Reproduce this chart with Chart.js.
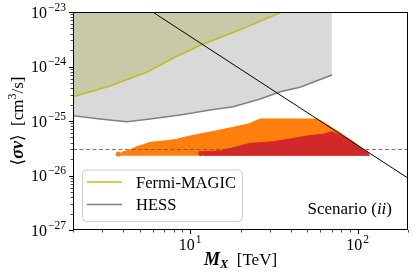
<!DOCTYPE html>
<html>
<head>
<meta charset="utf-8">
<script src="https://cdn.jsdelivr.net/npm/chart.js@4.4.1/dist/chart.umd.min.js"></script>
<style>
  html, body { margin: 0; padding: 0; background: #fff; }
</style>
</head>
<body>
<canvas id="chart" width="418" height="280"></canvas>
<script>
// limits (TeV, cm^3/s)
const fermiMass = [2, 3.33, 4.28, 5.5, 8.1, 11.6, 19.9, 35.2];
const fermiSv = [2.79e-25, 4.39e-25, 5.9e-25, 7.8e-25, 1.48e-24, 2.48e-24, 4.7e-24, 1e-23];
const hessMass = [2, 2.9, 4.19, 5.77, 8.7, 13.2, 18.1, 26.2, 34.5, 45.3, 70.2];
const hessSv = [1.25e-25, 1.09e-25, 9.7e-26, 1.09e-25, 1.29e-25, 1.59e-25, 1.83e-25, 2.53e-25, 3.45e-25, 4.15e-25, 6.98e-25];
const unitarityMass = [5.98, 200];
const unitaritySv = [1e-23, 8.94e-27];
const thermalMass = [2, 200];
const thermalSv = [3e-26, 3e-26];

// scan regions: upper edge + floor
const orangeMass = [3.85, 3.91, 4.38, 4.8, 5.26, 5.76, 7.25, 8.32, 9.55, 11.46, 14.42, 18.1, 22.3, 26.2, 57.0, 62.4, 78.6, 94.3, 115.9, 118];
const orangeSv = [2.3e-26, 2.67e-26, 2.94e-26, 3.38e-26, 3.67e-26, 4.06e-26, 4.35e-26, 4.62e-26, 5.15e-26, 5.77e-26, 6.63e-26, 7.66e-26, 8.81e-26, 1.09e-25, 1.09e-25, 9.5e-26, 6.1e-26, 4.15e-26, 2.6e-26, 2.3e-26];
const orangeFloor = 2.3e-26;
const redMass = [12.5, 12.57, 15.1, 18.1, 22.8, 26.2, 31.4, 39.5, 49.7, 62.4, 70.1, 78.6, 94.3, 114.9, 117];
const redSv = [2.3e-26, 2.74e-26, 2.85e-26, 3.24e-26, 3.9e-26, 4.0e-26, 4.17e-26, 4.67e-26, 5.31e-26, 5.7e-26, 6.36e-26, 5.47e-26, 3.9e-26, 2.62e-26, 2.3e-26];
const redFloor = 2.3e-26;
const orangeDotMass = [3.73];
const orangeDotSv = [2.48e-26];
const redDotMass = [11.6, 12.3];
const redDotSv = [2.55e-26, 2.55e-26];

// ticks
const xMajor = [10, 100];
const xMajorExp = ['1', '2'];
const xMinor = [2, 3, 4, 5, 6, 7, 8, 9, 20, 30, 40, 50, 60, 70, 80, 90, 200];
const yMajor = [1e-27, 1e-26, 1e-25, 1e-24, 1e-23];
const yMajorExp = ['\u221227', '\u221226', '\u221225', '\u221224', '\u221223'];
const yMinorMant = [2, 3, 4, 5, 6, 7, 8, 9];

const legendNames = ['Fermi-MAGIC', 'HESS'];
const legendColors = ['#bcbd22', '#808080'];

const serif = '"Liberation Serif", "DejaVu Serif", serif';
const pts = (xs, ys) => xs.map((x, i) => ({ x: x, y: ys[i] }));

function drawPower(ctx, exp, x, y, align) {
  ctx.font = '16px ' + serif;
  const wb = ctx.measureText('10').width;
  ctx.font = '11.5px ' + serif;
  const we = ctx.measureText(exp).width;
  const total = wb + we + 1;
  const x0 = align === 'right' ? x - total : x - total / 2;
  ctx.textAlign = 'left';
  ctx.font = '16px ' + serif;
  ctx.fillText('10', x0, y);
  ctx.font = '11.5px ' + serif;
  ctx.fillText(exp, x0 + wb + 1, y - 7);
}

// draw parts of mixed-style text in a row
function drawRuns(ctx, runs, x, y, align) {
  let total = 0;
  runs.forEach(r => { ctx.font = r.font; r.w = ctx.measureText(r.t).width; total += r.w; });
  let cx = align === 'right' ? x - total : (align === 'center' ? x - total / 2 : x);
  ctx.textAlign = 'left';
  runs.forEach(r => {
    ctx.font = r.font;
    ctx.fillText(r.t, cx, y + (r.dy || 0));
    cx += r.w;
  });
}

const axesPlugin = {
  id: 'axesPlugin',
  afterDraw(chart) {
    const ctx = chart.ctx;
    const a = chart.chartArea;
    const xs = chart.scales.x, ys = chart.scales.y;
    ctx.save();
    ctx.fillStyle = '#000';
    ctx.strokeStyle = '#000';
    ctx.textBaseline = 'alphabetic';

    // frame
    ctx.lineWidth = 1;
    ctx.strokeRect(a.left + 0.5, a.top + 0.5, a.right - a.left - 1, a.bottom - a.top - 1);

    // x ticks
    ctx.lineWidth = 1;
    ctx.beginPath();
    xMajor.forEach(v => {
      const px = Math.round(xs.getPixelForValue(v)) + 0.5;
      ctx.moveTo(px, a.bottom); ctx.lineTo(px, a.bottom + 4);
    });
    ctx.stroke();
    ctx.lineWidth = 0.7;
    ctx.beginPath();
    xMinor.forEach(v => {
      const px = Math.round(xs.getPixelForValue(v)) + 0.5;
      ctx.moveTo(px, a.bottom); ctx.lineTo(px, a.bottom + 2.5);
    });
    ctx.stroke();
    xMajor.forEach((v, i) => drawPower(ctx, xMajorExp[i], xs.getPixelForValue(v), a.bottom + 20, 'center'));

    // y ticks
    ctx.lineWidth = 1;
    ctx.beginPath();
    yMajor.forEach(v => {
      const py = Math.round(ys.getPixelForValue(v)) + 0.5;
      ctx.moveTo(a.left, py); ctx.lineTo(a.left - 4, py);
    });
    ctx.stroke();
    ctx.lineWidth = 0.7;
    ctx.beginPath();
    yMajor.slice(0, -1).forEach(d => {
      yMinorMant.forEach(m => {
        const py = Math.round(ys.getPixelForValue(m * d)) + 0.5;
        ctx.moveTo(a.left, py); ctx.lineTo(a.left - 2.5, py);
      });
    });
    ctx.stroke();
    yMajor.forEach((v, i) => drawPower(ctx, yMajorExp[i], a.left - 7, ys.getPixelForValue(v) + 5.5, 'right'));

    // axis titles
    drawRuns(ctx, [
      { t: 'M', font: 'italic bold 18px ' + serif },
      { t: 'X', font: 'italic bold 12.5px ' + serif, dy: 3 },
      { t: '  [TeV]', font: '17px ' + serif }
    ], (a.left + a.right) / 2, 265, 'center');

    ctx.save();
    ctx.translate(23, (a.top + a.bottom) / 2);
    ctx.rotate(-Math.PI / 2);
    drawRuns(ctx, [
      { t: '\u27E8', font: '17px "DejaVu Serif", serif' },
      { t: '\u03C3v', font: 'italic bold 18px ' + serif },
      { t: '\u27E9', font: '17px "DejaVu Serif", serif' },
      { t: '  [cm', font: '17px ' + serif },
      { t: '3', font: '12px ' + serif, dy: -7 },
      { t: '/s]', font: '17px ' + serif }
    ], 0, 0, 'center');
    ctx.restore();

    // legend
    const lx = 82, ly = 169.5, lw = 160, lh = 51.5;
    ctx.beginPath();
    ctx.roundRect(lx + 0.5, ly + 0.5, lw, lh, 4);
    ctx.fillStyle = 'rgba(255,255,255,0.85)';
    ctx.fill();
    ctx.strokeStyle = '#cccccc';
    ctx.lineWidth = 1;
    ctx.stroke();
    legendNames.forEach((name, i) => {
      const yy = 182 + i * 22.5;
      ctx.strokeStyle = legendColors[i];
      ctx.lineWidth = 1.6;
      ctx.beginPath();
      ctx.moveTo(87, yy); ctx.lineTo(122, yy);
      ctx.stroke();
      ctx.fillStyle = '#000';
      ctx.font = '16.5px ' + serif;
      ctx.textAlign = 'left';
      ctx.fillText(name, 136, yy + 5.5);
    });

    // scenario label
    ctx.fillStyle = '#000';
    drawRuns(ctx, [
      { t: 'Scenario (', font: '17px ' + serif },
      { t: 'ii', font: 'italic 17px ' + serif },
      { t: ')', font: '17px ' + serif }
    ], 392, 214, 'right');

    ctx.restore();
  }
};

new Chart(document.getElementById('chart'), {
  type: 'line',
  data: {
    datasets: [
      { data: pts(unitarityMass, unitaritySv), borderColor: '#000', borderWidth: 1, fill: false, order: 0 },
      { data: pts(thermalMass, thermalSv), borderColor: '#555', borderWidth: 0.8, borderDash: [4, 2.5], fill: false, order: 1 },
      { data: pts(redDotMass, redDotSv), showLine: false, pointRadius: 2.6, pointBackgroundColor: '#d62728', pointBorderWidth: 0, order: 2 },
      { data: pts(redMass, redSv), borderColor: '#d62728', borderWidth: 1, backgroundColor: '#d62728', fill: { value: redFloor }, order: 3 },
      { data: pts(orangeDotMass, orangeDotSv), showLine: false, pointRadius: 2.6, pointBackgroundColor: '#ff7f0e', pointBorderWidth: 0, order: 4 },
      { data: pts(orangeMass, orangeSv), borderColor: '#ff7f0e', borderWidth: 1, backgroundColor: '#ff7f0e', fill: { value: orangeFloor }, order: 5 },
      { data: pts(fermiMass, fermiSv), borderColor: '#bcbd22', borderWidth: 1.6, backgroundColor: '#c8c9a7', fill: 'end', order: 6 },
      { data: pts(hessMass, hessSv), borderColor: '#808080', borderWidth: 1.6, backgroundColor: '#d9d9d9', fill: 'end', order: 7 }
    ]
  },
  options: {
    responsive: false,
    animation: false,
    devicePixelRatio: 1,
    layout: { padding: { left: 73, top: 12, right: 10, bottom: 50 } },
    plugins: { legend: { display: false }, tooltip: { enabled: false } },
    elements: { point: { radius: 0 }, line: { tension: 0 } },
    scales: {
      x: { type: 'logarithmic', min: 2, max: 200, display: false },
      y: { type: 'logarithmic', min: 1e-27, max: 1e-23, display: false }
    }
  },
  plugins: [axesPlugin]
});
</script>
</body>
</html>
